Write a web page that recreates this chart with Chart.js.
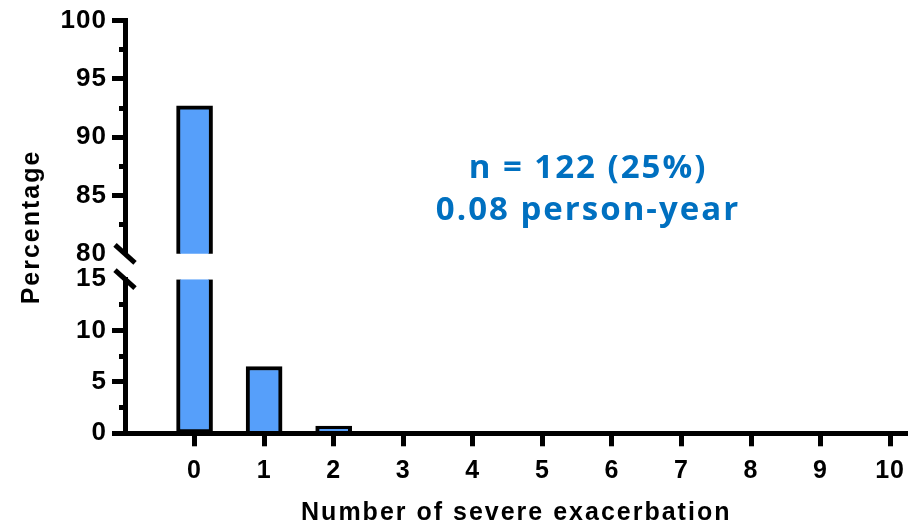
<!DOCTYPE html>
<html>
<head>
<meta charset="utf-8">
<script src="https://cdn.jsdelivr.net/npm/chart.js@4/dist/chart.umd.min.js"></script>
<style>
  html, body { margin: 0; padding: 0; background: #fff; }
  #wrap { width: 921px; height: 531px; }
</style>
</head>
<body>
<div id="wrap"><canvas id="myChart"></canvas></div>
<script>
// Data
var categories = [0, 1, 2, 3, 4, 5, 6, 7, 8, 9, 10];
var percentages = [92.7, 6.5, 0.7, 0.1, 0.1, 0.1, 0.1, 0.1, 0.1, 0.1, 0.1];
var lowerRange = [0, 15];     // bottom segment of the broken axis
var upperRange = [80, 100];   // top segment
var xTitle = 'Number of severe exacerbation';
var yTitle = 'Percentage';
var noteLines = ['n = 122 (25%)', '0.08 person-year'];

var barColor = '#569ffa';
var noteColor = '#0070c0';

Chart.defaults.font.family = "'Liberation Sans', Arial, sans-serif";
Chart.defaults.font.size = 26;
Chart.defaults.font.weight = 'bold';
Chart.defaults.color = '#000';

// one segment of the broken y axis
function yAxis(range, weight, hideValue) {
    return {
        type: 'linear',
        position: 'left',
        stack: 'left',
        stackWeight: weight,
        min: range[0],
        max: range[1],
        afterFit: function(scale) { scale.width = 78; },
        border: { color: '#000', width: 5 },
        grid: {
            drawOnChartArea: false,
            drawTicks: true,
            tickLength: 13,
            tickWidth: 5,
            tickColor: function(ctx) {
                return ctx.tick && ctx.tick.value === hideValue ? 'rgba(0,0,0,0)' : '#000';
            },
            tickBorderDash: [13, 100],
            // minor ticks (every 2.5) only show the half next to the axis
            tickBorderDashOffset: function(ctx) {
                return ctx.tick && ctx.tick.value % 5 !== 0 ? 106 : 0;
            }
        },
        ticks: {
            z: 1,
            stepSize: 2.5,
            padding: 5,
            autoSkip: false,
            callback: function(v) { return v % 5 === 0 ? v : ''; }
        }
    };
}

var extras = {
    id: 'extras',
    // titles are drawn before the bars, tick labels after them (ticks.z = 1)
    beforeDraw: function(chart) { chart.ctx.letterSpacing = '2px'; },
    afterDatasetsDraw: function(chart) { chart.ctx.letterSpacing = '1px'; },
    afterDraw: function(chart) {
        var ctx = chart.ctx;
        var x = chart.chartArea.left;
        var ys = [
            chart.scales.yHigh.getPixelForValue(upperRange[0]),
            chart.scales.yLow.getPixelForValue(lowerRange[1])
        ];
        ctx.save();
        // axis break marks
        ctx.strokeStyle = '#000';
        ctx.lineWidth = 5;
        ys.forEach(function(y) {
            ctx.beginPath();
            ctx.moveTo(x - 10, y - 9);
            ctx.lineTo(x + 10, y + 9);
            ctx.stroke();
        });
        // note text
        ctx.fillStyle = noteColor;
        ctx.font = "bold 33px 'Open Sans'";
        ctx.letterSpacing = '2px';
        ctx.textAlign = 'center';
        ctx.textBaseline = 'alphabetic';
        noteLines.forEach(function(t, i) {
            ctx.fillText(t, 588, 178 + i * 42);
        });
        ctx.restore();
    }
};

var ctx = document.getElementById('myChart').getContext('2d');
var myChart = new Chart(ctx, {
    type: 'bar',
    data: {
        datasets: [{
            data: categories.map(function(c, i) {
                return { x: c, y: Math.min(percentages[i], lowerRange[1]) };
            }),
            yAxisID: 'yLow',
            backgroundColor: barColor,
            borderColor: '#000',
            borderWidth: 4,
            barThickness: 36,
            grouped: false,
            borderSkipped: function(c) {
                return percentages[c.dataIndex] > lowerRange[1] ? 'top' : 'start';
            }
        }, {
            data: categories.map(function(c, i) {
                return { x: c, y: percentages[i] > upperRange[0] ? percentages[i] : null };
            }),
            yAxisID: 'yHigh',
            backgroundColor: barColor,
            borderColor: '#000',
            borderWidth: 4,
            barThickness: 36,
            grouped: false,
            borderSkipped: 'start'
        }]
    },
    options: {
        responsive: true,
        maintainAspectRatio: false,
        animation: false,
        events: [],
        layout: { padding: { left: 0, top: 17.5, right: 13.5, bottom: 0 } },
        plugins: {
            legend: { display: false },
            tooltip: { enabled: false },
            title: {
                display: true,
                text: yTitle,
                position: 'left',
                fullSize: false,
                padding: { top: 17, bottom: 0 },
                font: { size: 25, weight: 'bold' },
                color: '#000'
            }
        },
        scales: {
            x: {
                type: 'linear',
                position: 'bottom',
                min: -1,
                max: 10.25,
                offset: false,
                afterFit: function(scale) { scale.height = 97.7; },
                afterBuildTicks: function(scale) {
                    scale.ticks = categories.map(function(v) { return { value: v }; });
                },
                border: { color: '#000', width: 5, z: 1 },
                grid: {
                    drawOnChartArea: false,
                    offset: false,
                    tickLength: 13,
                    tickWidth: 5,
                    tickColor: '#000'
                },
                ticks: { z: 1, padding: 10, autoSkip: false, maxRotation: 0, font: { size: 25 } },
                title: {
                    display: true,
                    text: xTitle,
                    padding: { top: 0, bottom: 3 },
                    font: { size: 25, weight: 'bold' }
                }
            },
            yLow: yAxis(lowerRange, 155.3, lowerRange[1]),
            yGap: {
                type: 'linear',
                position: 'left',
                stack: 'left',
                stackWeight: 25.5,
                min: 0,
                max: 1,
                afterFit: function(scale) { scale.width = 78; },
                border: { display: false },
                grid: { display: false },
                ticks: { display: false }
            },
            yHigh: yAxis(upperRange, 235, upperRange[0])
        }
    },
    plugins: [extras]
});
</script>
</body>
</html>
